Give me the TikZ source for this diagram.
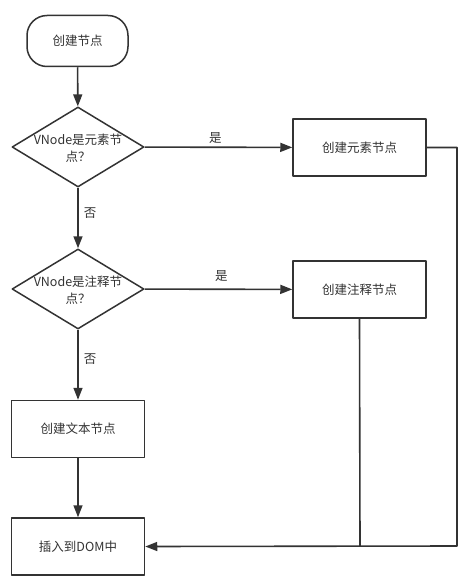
\documentclass[tikz,border=0pt]{standalone}
\usepackage{fontspec}
\newfontfamily\cjk{Noto Sans CJK SC}
\usetikzlibrary{shapes.geometric,arrows.meta}
\definecolor{ink}{HTML}{333333}
\tikzset{
  base/.style={draw=ink,line width=1.5pt,text=ink,font=\cjk\fontsize{12.5}{17}\selectfont},
  startbox/.style={base,rectangle,rounded corners=20pt,minimum width=101pt,minimum height=51pt},
  procbox/.style={base,rectangle,minimum width=133pt,minimum height=57pt},
  decision/.style={base,diamond,minimum width=132pt,minimum height=80pt,inner sep=0pt},
  txt/.style={text=ink,font=\cjk\fontsize{12.5}{17}\selectfont,inner sep=0pt},
  flow/.style={draw=ink,line width=1.6pt,-{Triangle[length=12pt,width=9pt]}},
  line/.style={draw=ink,line width=1.6pt}
}
\begin{document}
\begin{tikzpicture}[x=1pt,y=-1pt,line join=round]
			\useasboundingbox (0,0) rectangle (468,586);
			\node[startbox] (S) at (77.5,41) {创建节点};
			\node[decision] (Q1) at (78,147) {};
			\node[txt,align=center] (Q1t) at (78,148) {VNode是元素节\\点？};
			\node[decision] (Q2) at (78,289) {};
			\node[txt,align=center] (Q2t) at (78,290) {VNode是注释节\\点？};
			\node[procbox] (E) at (359.5,147.5) {创建元素节点};
			\node[procbox] (C) at (359.5,289.5) {创建注释节点};
			\node[procbox] (T) at (78,429) {创建文本节点};
			\node[procbox] (D) at (78,546.5) {插入到DOM中};
			\coordinate (R) at (457,546);
			\coordinate (J) at (360,546);
			\draw[flow] (S)--(Q1);
			\draw[flow] (Q1)--(Q2) node[txt,pos=0.42,right=5pt] (n1) {否};
			\draw[flow] (Q2)--(T) node[txt,pos=0.42,right=5pt] (n2) {否};
			\draw[flow] (T)--(D);
			\draw[flow] (Q1)--(E) node[txt,pos=0.48,above=3pt] (y1) {是};
			\draw[flow] (Q2)--(C) node[txt,pos=0.52,above=7pt] (y2) {是};
			\draw[flow] (E.east)-|(R)--(D.east);
			\draw[line] (C.south)--(J);
		\end{tikzpicture}
\end{document}
